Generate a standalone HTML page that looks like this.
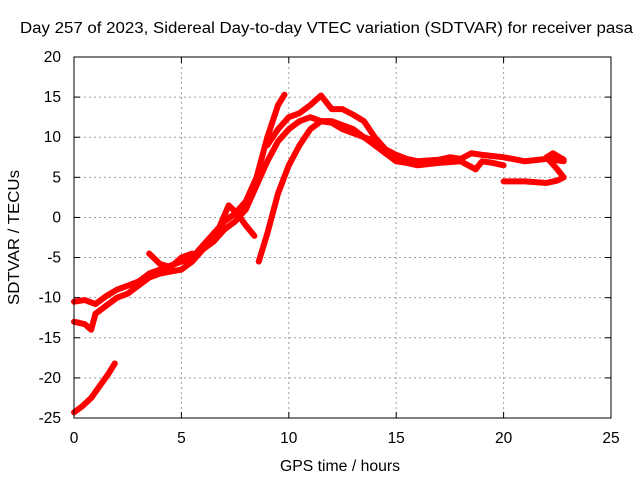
<!DOCTYPE html>
<html><head><meta charset="utf-8"><style>
body{margin:0;background:#fff}
svg{display:block;font-family:"Liberation Sans",sans-serif}
</style></head><body>
<svg id="chart" width="640" height="480" viewBox="0 0 640 480" xmlns="http://www.w3.org/2000/svg">
<text x="20" y="33" font-size="15.5" textLength="613" lengthAdjust="spacingAndGlyphs">Day 257 of 2023, Sidereal Day-to-day VTEC variation (SDTVAR) for receiver pasa</text>
<text x="280" y="471" font-size="15.5" textLength="120" lengthAdjust="spacingAndGlyphs">GPS time / hours</text>
<text transform="translate(19,305) rotate(-90)" font-size="15.5" textLength="135" lengthAdjust="spacingAndGlyphs">SDTVAR / TECUs</text>
<g id="grid"></g>
<g id="ticks"></g>
<g id="series"></g>
<rect x="74" y="57" width="537" height="361" fill="none" stroke="#000" stroke-width="1"/>
</svg>
<script>
const xTicks=[0,5,10,15,20,25];
const yTicks=[20,15,10,5,0,-5,-10,-15,-20,-25];
const track1X=[0,0.5,1,1.5,2,2.5,3,3.5,4,4.5,5,5.5,6,6.5,7,7.5,8,8.5,9,9.5,9.8];
const track1Y=[-10.5,-10.3,-10.8,-9.8,-9,-8.5,-8,-7,-6.5,-6,-5.5,-5,-3.5,-2,-0.5,0.5,2,5,10,14,15.3];
const track2X=[0,0.5,0.8,1,1.5,2,2.5,3,3.5,4,5,5.5,6,6.5,7,7.5,8,8.5,9,9.5,10,10.5,11,11.5,12,12.5,13,13.5,14,14.5,15,16,17,17.5,18,18.5,19,20,21,22,22.8];
const track2Y=[-13,-13.3,-14,-12,-11,-10,-9.5,-8.5,-7.5,-7,-6.5,-5.5,-4,-3,-1.5,-0.5,1,4,7,9.5,11,12,12.5,12,11.8,11,10.5,10,9.5,8,7.5,7,7.2,7.5,7.3,8,7.8,7.5,7,7.3,7];
const track3X=[8.6,9,9.5,10,10.5,11,11.5,12,12.5,13,13.5,14,14.5,15,15.5,16,17,18,18.7,19,19.5,20];
const track3Y=[-5.5,-2,3,6.5,9,11,12,12,11.5,11,10,9,8,7,6.8,6.5,6.8,7,6,7,6.8,6.5];
const track4X=[9,9.5,10,10.5,11,11.5,12,12.5,13,13.5,14,14.5,15,15.5,16];
const track4Y=[9,11,12.5,13,14,15.2,13.5,13.5,12.8,12,10,8.5,7.8,7.3,7];
const track5X=[20,21,22,22.5,22.8,22.5,22,22.3,22.8];
const track5Y=[4.5,4.5,4.3,4.6,5,6,7.5,8,7.2];
const track6X=[0,0.4,0.8,1.2,1.6,1.9];
const track6Y=[-24.3,-23.5,-22.5,-21,-19.5,-18.2];
const track7X=[6.8,7.2,7.6,8,8.4];
const track7Y=[-1,1.5,0.5,-1,-2.3];
const track8X=[3.5,4,4.5,5,5.5];
const track8Y=[-4.5,-5.8,-6.2,-5,-4.5];
const tracks=[[track1X,track1Y],[track2X,track2Y],[track3X,track3Y],[track4X,track4Y],[track5X,track5Y],[track6X,track6Y],[track7X,track7Y],[track8X,track8Y]];
const NS="http://www.w3.org/2000/svg";
const X0=74,X1=611,Y0=418,Y1=57,XMIN=0,XMAX=25,YMIN=-25,YMAX=20;
function sx(v){return X0+(v-XMIN)/(XMAX-XMIN)*(X1-X0);}
function sy(v){return Y0-(v-YMIN)/(YMAX-YMIN)*(Y0-Y1);}
const grid=document.getElementById('grid'),ticks=document.getElementById('ticks'),series=document.getElementById('series');
function mk(t,a,p){const e=document.createElementNS(NS,t);for(const k in a)e.setAttribute(k,a[k]);p.appendChild(e);return e;}
xTicks.forEach(v=>{const x=sx(v);
 if(v>XMIN&&v<XMAX){const g=mk('line',{x1:x,x2:x,y1:Y1,y2:Y0,stroke:'#a0a0a0','stroke-dasharray':'2,3'},grid);
 
 }
 mk('line',{x1:x,x2:x,y1:Y0,y2:Y0-6,stroke:'#000'},ticks);
 mk('line',{x1:x,x2:x,y1:Y1,y2:Y1+6,stroke:'#000'},ticks);
 const t=mk('text',{x:x,y:Y0+25,'font-size':15.5,'text-anchor':'middle'},ticks);t.textContent=v;
 
 
});
yTicks.forEach(v=>{const y=sy(v);
 if(v>YMIN&&v<YMAX){const g=mk('line',{x1:X0,x2:X1,y1:y,y2:y,stroke:'#a0a0a0','stroke-dasharray':'2,3'},grid);
 
 }
 mk('line',{x1:X0,x2:X0+6,y1:y,y2:y,stroke:'#000'},ticks);
 mk('line',{x1:X1,x2:X1-6,y1:y,y2:y,stroke:'#000'},ticks);
 const t=mk('text',{x:X0-13,y:y+5,'font-size':15.5,'text-anchor':'end'},ticks);t.textContent=v;
 
 
});
tracks.forEach((tr,i)=>{const pts=tr[0].map((x,j)=>sx(x)+','+sy(tr[1][j])).join(' ');
 const p=mk('polyline',{points:pts,fill:'none',stroke:'#ff0000','stroke-width':6,'stroke-linejoin':'round','stroke-linecap':'round'},series);
 
 
});
</script>
</body></html>
